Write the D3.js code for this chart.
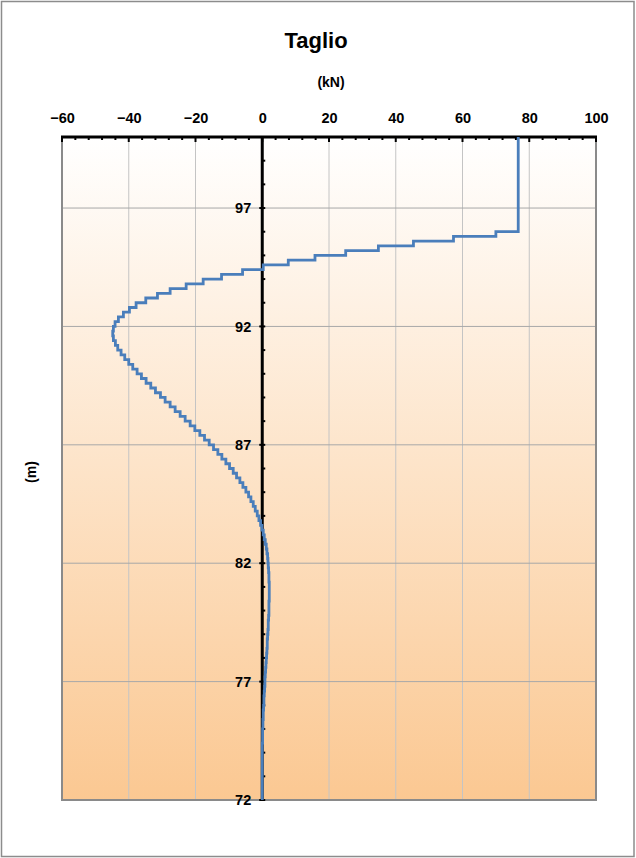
<!DOCTYPE html>
<html>
<head>
<meta charset="utf-8">
<script src="https://cdn.jsdelivr.net/npm/d3@7"></script>
<style>
  html, body { margin: 0; padding: 0; background: #ffffff; }
  svg { display: block; }
  text { font-family: "Liberation Sans", Arial, sans-serif; font-weight: bold; fill: #000; }
</style>
</head>
<body>
<div id="chart"></div>
<script>
// ---- Data ----
const title = "Taglio";
const xUnit = "(kN)";
const yUnit = "(m)";
const xTicks = [-60, -40, -20, 0, 20, 40, 60, 80, 100];
const yTicks = [72, 77, 82, 87, 92, 97];
// top of each depth interval (m); each interval ends at the next entry, the last ends at 72
const depthTop = [
  100, 96.0, 95.8, 95.6, 95.4, 95.2, 95.0, 94.8, 94.6, 94.4, 94.2,
  94.0, 93.8, 93.6, 93.4, 93.2, 93.0, 92.8, 92.6, 92.4, 92.2,
  92.0, 91.8, 91.6, 91.4, 91.2, 91.0, 90.8, 90.6, 90.4, 90.2,
  90.0, 89.8, 89.6, 89.4, 89.2, 89.0, 88.8, 88.6, 88.4, 88.2,
  88.0, 87.8, 87.6, 87.4, 87.2, 87.0, 86.8, 86.6, 86.4, 86.2,
  86.0, 85.8, 85.6, 85.4, 85.2, 85.0, 84.8, 84.6, 84.4, 84.2,
  84.0, 83.8, 83.6, 83.4, 83.2, 83.0, 82.8, 82.6, 82.4, 82.2,
  82.0, 81.8, 81.6, 81.4, 81.2, 81.0, 80.8, 80.6, 80.4, 80.2,
  80.0, 79.8, 79.6, 79.4, 79.2, 79.0, 78.8, 78.6, 78.4, 78.2,
  78.0, 77.8, 77.6, 77.4, 77.2, 77.0, 76.8, 76.6, 76.4, 76.2,
  76.0, 75.8, 75.6, 75.4, 75.2, 75.0, 74.8, 74.6, 74.4, 74.2,
  74.0, 73.8, 73.6, 73.4, 73.2, 73.0, 72.8, 72.6, 72.4, 72.2
];
const depthBottom = 72;
// shear (kN) in each interval
const shear = [
  76.7, 70.0, 57.3, 45.3, 34.8, 25.0, 15.8, 7.8, 0.3, -5.9, -12.2,
  -17.7, -22.8, -27.6, -31.4, -34.9, -37.8, -39.8, -41.6, -43.1, -44.1,
  -44.6, -44.8, -44.6, -44.0, -43.3, -42.3, -41.2, -40.0, -38.8, -37.5,
  -36.2, -34.8, -33.4, -32.0, -30.5, -29.1, -27.6, -26.1, -24.6, -23.1,
  -21.6, -20.2, -18.7, -17.3, -15.9, -14.6, -13.3, -12.1, -10.9, -9.8,
  -8.7, -7.7, -6.7, -5.8, -4.9, -4.1, -3.4, -2.7, -2.1, -1.5,
  -1.0, -0.5, -0.1, 0.3, 0.6, 0.9, 1.2, 1.4, 1.6, 1.7,
  1.8, 1.9, 2.0, 2.0, 2.1, 2.1, 2.1, 2.1, 2.0, 2.0,
  2.0, 1.9, 1.8, 1.8, 1.7, 1.6, 1.5, 1.5, 1.4, 1.3,
  1.2, 1.1, 1.0, 0.9, 0.8, 0.8, 0.7, 0.6, 0.5, 0.5,
  0.4, 0.3, 0.3, 0.2, 0.2, 0.1, 0.1, 0.1, 0.0, 0.0,
  0.0, 0.0, 0.0, 0.0, 0.0, 0.0, 0.0, 0.0, 0.0, 0.0
];

// ---- Layout ----
const W = 636, H = 858;
const plot = { left: 62, right: 596, top: 137, bottom: 800 };
const tickFont = "14.5px";

const svg = d3.select("#chart").append("svg")
  .attr("width", W).attr("height", H);

// outer frame
svg.append("rect")
  .attr("x", 1.5).attr("y", 1.5).attr("width", W - 3.5).attr("height", H - 3)
  .attr("fill", "#ffffff").attr("stroke", "#8c8c8c").attr("stroke-width", 1.5);

const x = d3.scaleLinear().domain([-60, 100]).range([plot.left, plot.right]);
const y = d3.scaleLinear().domain([72, 100]).range([plot.bottom, plot.top]);

// background gradient
const defs = svg.append("defs");
const grad = defs.append("linearGradient").attr("id", "bg")
  .attr("x1", 0).attr("y1", 0).attr("x2", 0).attr("y2", 1);
grad.append("stop").attr("offset", "0%").attr("stop-color", "#ffffff");
grad.append("stop").attr("offset", "100%").attr("stop-color", "#fbc892");

svg.append("rect")
  .attr("x", plot.left).attr("y", plot.top)
  .attr("width", plot.right - plot.left).attr("height", plot.bottom - plot.top)
  .attr("fill", "url(#bg)");

// gridlines
svg.append("g").selectAll("line.vg")
  .data(xTicks.filter(d => d !== 0))
  .join("line")
  .attr("x1", d => x(d)).attr("x2", d => x(d))
  .attr("y1", plot.top).attr("y2", plot.bottom)
  .attr("stroke", "#c4c4c4").attr("stroke-width", 1);

svg.append("g").selectAll("line.hg")
  .data(yTicks)
  .join("line")
  .attr("x1", plot.left).attr("x2", plot.right)
  .attr("y1", d => y(d)).attr("y2", d => y(d))
  .attr("stroke", "#a8a8a8").attr("stroke-width", 1);

// plot border (left, right, bottom)
svg.append("path")
  .attr("d", `M${plot.left},${plot.top} V${plot.bottom} H${plot.right} V${plot.top}`)
  .attr("fill", "none").attr("stroke", "#8a8a8a").attr("stroke-width", 2);

// top axis (black) with ticks
const topAxis = d3.axisTop(x).tickValues(xTicks).tickSize(0).tickPadding(14);
const gTop = svg.append("g").attr("transform", `translate(0,${plot.top})`).call(topAxis);
gTop.select(".domain").remove();
gTop.selectAll("text").style("font-size", tickFont).style("font-family", "'Liberation Sans', Arial, sans-serif").style("font-weight", "bold").attr("fill", "#000");

svg.append("line")
  .attr("x1", plot.left - 1).attr("x2", plot.right + 1)
  .attr("y1", plot.top).attr("y2", plot.top)
  .attr("stroke", "#000").attr("stroke-width", 3);

const xMinor = d3.range(-60, 100.1, 4);
svg.append("g").selectAll("line")
  .data(xMinor)
  .join("line")
  .attr("x1", d => x(d)).attr("x2", d => x(d))
  .attr("y1", plot.top).attr("y2", d => xTicks.includes(d) ? plot.top + 5 : plot.top + 3)
  .attr("stroke", "#000").attr("stroke-width", 2);

// vertical zero axis
const leftAxis = d3.axisLeft(y).tickValues(yTicks).tickSize(0).tickPadding(11);
const gLeft = svg.append("g").attr("transform", `translate(${x(0)},0)`).call(leftAxis);
gLeft.select(".domain").remove();
gLeft.selectAll("text").style("font-size", tickFont).style("font-family", "'Liberation Sans', Arial, sans-serif").style("font-weight", "bold").attr("fill", "#000");

svg.append("line")
  .attr("x1", x(0)).attr("x2", x(0))
  .attr("y1", plot.top).attr("y2", plot.bottom)
  .attr("stroke", "#000").attr("stroke-width", 3);

const yMinor = d3.range(72, 100.01, 1);
svg.append("g").selectAll("line")
  .data(yMinor)
  .join("line")
  .attr("x1", d => yTicks.includes(d) ? x(0) - 3 : x(0))
  .attr("x2", d => x(0) + 3)
  .attr("y1", d => y(d)).attr("y2", d => y(d))
  .attr("stroke", "#000").attr("stroke-width", 2);

// shear step line
const pts = [];
shear.forEach((v, i) => {
  const top = depthTop[i];
  const bot = i + 1 < depthTop.length ? depthTop[i + 1] : depthBottom;
  pts.push([v, top]);
  pts.push([v, bot]);
});
const line = d3.line().x(d => x(d[0])).y(d => y(d[1]));
svg.append("path")
  .datum(pts)
  .attr("d", line)
  .attr("fill", "none")
  .attr("stroke", "#4a7ebb")
  .attr("stroke-width", 2.8)
  .attr("stroke-linejoin", "miter");

// titles
svg.append("text")
  .attr("x", 316).attr("y", 48)
  .attr("text-anchor", "middle")
  .style("font-size", "22px")
  .text(title);

svg.append("text")
  .attr("x", 331).attr("y", 87)
  .attr("text-anchor", "middle")
  .style("font-size", "14px")
  .text(xUnit);

svg.append("text")
  .attr("transform", "translate(36,472) rotate(-90)")
  .attr("text-anchor", "middle")
  .style("font-size", "14px")
  .text(yUnit);
</script>
</body>
</html>
